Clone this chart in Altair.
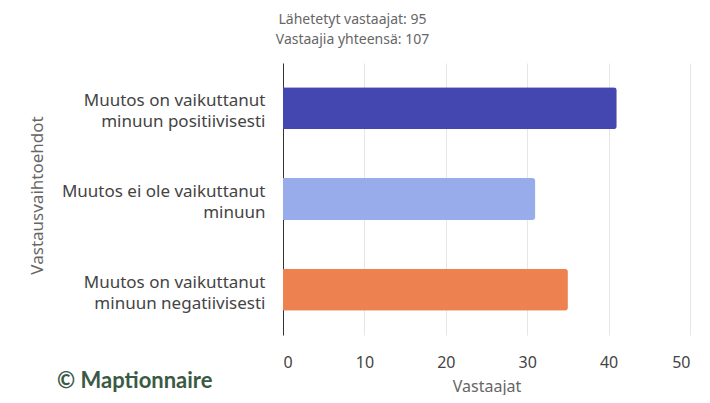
import altair as alt
import pandas as pd

categories = [
    "Muutos on vaikuttanut\nminuun positiivisesti",
    "Muutos ei ole vaikuttanut\nminuun",
    "Muutos on vaikuttanut\nminuun negatiivisesti",
]
values = [41, 31, 35]
colors = ["#4347AF", "#98ACEB", "#EE8150"]
x_ticks = [0, 10, 20, 30, 40, 50]
title_lines = ["Lähetetyt vastaajat: 95", "Vastaajia yhteensä: 107"]

df = pd.DataFrame({"category": categories, "value": values})

FONT = "Noto Sans"

bars = alt.Chart(df).mark_bar(cornerRadiusEnd=3, size=42).encode(
    x=alt.X(
        "value:Q",
        scale=alt.Scale(domain=[0, 50], nice=False),
        axis=alt.Axis(
            values=x_ticks,
            title="Vastaajat",
            domain=False,
            ticks=False,
            grid=True,
            gridColor="#e6e6e6",
            labelPadding=19,
            labelFontSize=16,
            labelColor="#444444",
            labelFont=FONT,
            titleFontSize=16,
            titleColor="#666666",
            titleFont=FONT,
            titleFontWeight="normal",
            titleBaseline="middle",
            titleY=51,
        ),
    ),
    y=alt.Y(
        "category:N",
        sort=categories,
        scale=alt.Scale(paddingInner=0, paddingOuter=0),
        axis=alt.Axis(
            title="Vastausvaihtoehdot",
            labelExpr="split(datum.label, '\\n')",
            labelFontSize=17,
            labelColor="#444444",
            labelFont=FONT,
            labelLineHeight=21,
            labelLimit=400,
            labelPadding=18,
            labelOffset=-7,
            ticks=False,
            domain=True,
            domainColor="#333333",
            domainWidth=1,
            titleFontSize=17,
            titleColor="#666666",
            titleFont=FONT,
            titleFontWeight="normal",
            titleBaseline="middle",
            titleX=-246,
            titleY=132,
        ),
    ),
    color=alt.Color(
        "category:N",
        scale=alt.Scale(domain=categories, range=colors),
        legend=None,
    ),
)

logo = alt.Chart(pd.DataFrame({"t": ["© Maptionnaire"]})).mark_text(
    align="left",
    baseline="middle",
    font="Lato",
    fontSize=22,
    fontWeight="bold",
    color="#3b5a44",
).encode(text="t:N", x=alt.value(-226), y=alt.value(318))

chart = (
    alt.layer(bars, logo)
    .properties(
        width=407,
        height=272,
        title=alt.TitleParams(
            text=title_lines,
            fontSize=14,
            color="#666666",
            font=FONT,
            fontWeight="normal",
            lineHeight=20,
            anchor="middle",
            dx=-134,
            offset=16,
        ),
        padding={"left": 275, "top": 55, "right": 10, "bottom": 60},
        autosize=alt.AutoSizeParams(type="none"),
    )
    .configure_view(stroke=None)
)

chart.save("out.html", embed_options={"renderer": "svg", "actions": False})
